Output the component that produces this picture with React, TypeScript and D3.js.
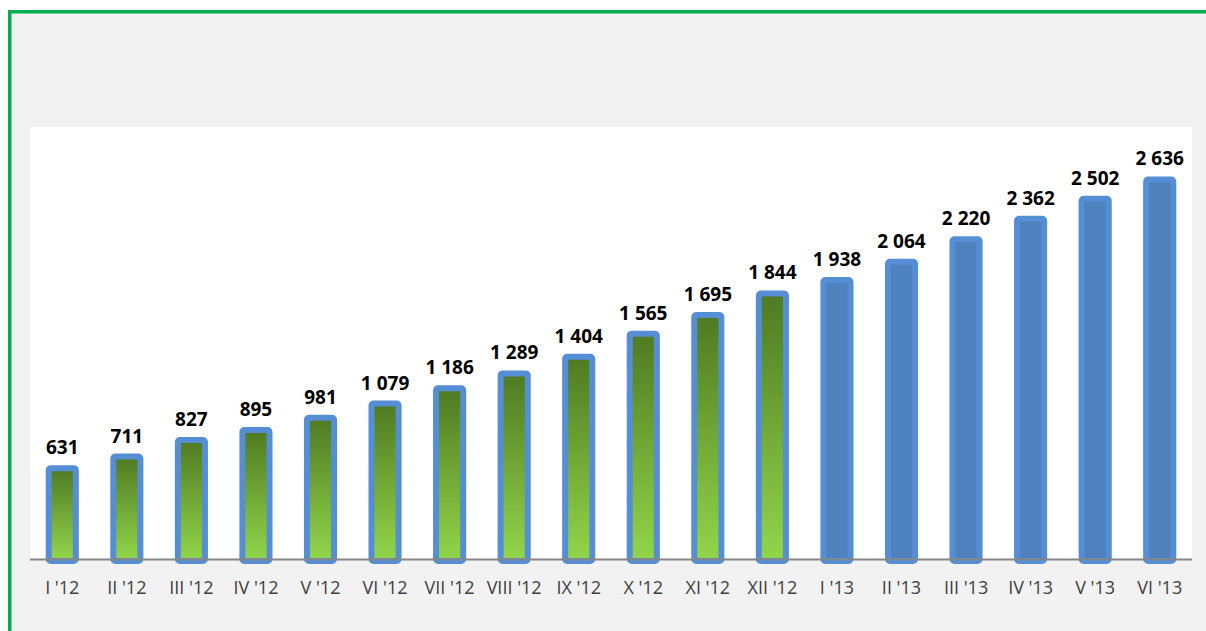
import React from 'react';
import * as d3 from 'd3';

const categories = ["I '12", "II '12", "III '12", "IV '12", "V '12", "VI '12", "VII '12", "VIII '12", "IX '12", "X '12", "XI '12", "XII '12", "I '13", "II '13", "III '13", "IV '13", "V '13", "VI '13"];
const values = [631, 711, 827, 895, 981, 1079, 1186, 1289, 1404, 1565, 1695, 1844, 1938, 2064, 2220, 2362, 2502, 2636];
// first 12 months are actuals (green), the rest forecast (blue)
const actualCount = 12;

const W = 1206;
const H = 631;
const plot = { left: 30, right: 1192, top: 127, bottom: 559 };

const fmt = (v: number) => d3.format(',')(v).replace(/,/g, ' ');

export default function App() {
  const x = d3.scaleBand().domain(categories).range([plot.left, plot.right]).paddingInner(0.58).paddingOuter(0.29);
  const y = d3.scaleLinear().domain([0, 3000]).range([plot.bottom, plot.top]);
  const bw = x.bandwidth();

  return (
    <svg width={W} height={H} style={{ position: 'absolute', left: 0, top: 0 }} fontFamily="'Open Sans', 'Liberation Sans', sans-serif">
      <defs>
        <linearGradient id="greenGrad" x1="0" y1="0" x2="0" y2="1">
          <stop offset="0%" stopColor="#4f7a22" />
          <stop offset="100%" stopColor="#92d64a" />
        </linearGradient>
      </defs>
      <rect x={0} y={0} width={W} height={H} fill="#ffffff" />
      <rect x={11} y={13} width={W - 11} height={H - 13} fill="#f2f2f2" />
      <rect x={8} y={10} width={W - 8} height={3.5} fill="#00b050" />
      <rect x={8} y={10} width={3.5} height={H - 10} fill="#00b050" />
      <rect x={plot.left} y={plot.top} width={plot.right - plot.left} height={plot.bottom - plot.top} fill="#ffffff" />

      {values.map((v, i) => {
        const c = categories[i];
        const bx = x(c)!;
        const top = y(v);
        return (
          <g key={c}>
            <rect x={bx} y={top} width={bw} height={plot.bottom + 2 - top}
              fill={i < actualCount ? 'url(#greenGrad)' : '#4f81bd'}
              stroke="#558ed5" strokeWidth={6} rx={2} />
            <text x={bx + bw / 2} y={top - 14} textAnchor="middle" fontSize={19} fontWeight="bold" fill="#000">{fmt(v)}</text>
          </g>
        );
      })}

      <line x1={plot.left} x2={plot.right} y1={plot.bottom + 0.5} y2={plot.bottom + 0.5} stroke="#868686" strokeWidth={2} />

      {categories.map(c => (
        <text key={c} x={x(c)! + bw / 2} y={594} textAnchor="middle" fontSize={18} fill="#404040">{c}</text>
      ))}
    </svg>
  );
}
